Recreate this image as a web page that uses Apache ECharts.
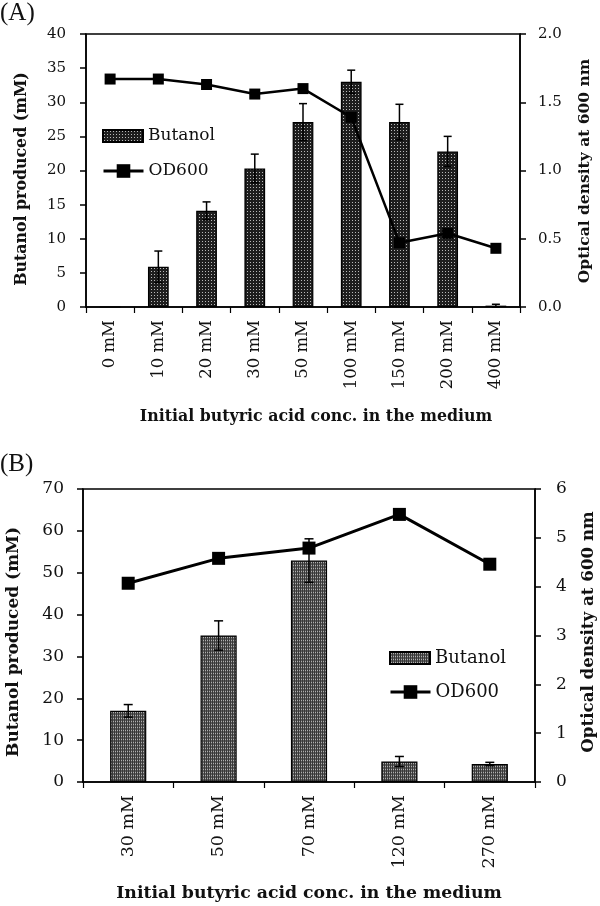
<!DOCTYPE html>
<html><head><meta charset="utf-8">
<script src="https://cdn.jsdelivr.net/npm/echarts@6/dist/echarts.min.js"></script>
<style>html,body{margin:0;padding:0;background:#fff}#c{width:600px;height:906px}</style>
</head><body><div id="c"></div><script>
// ---------- Data ----------
const catA = ['0 mM','10 mM','20 mM','30 mM','50 mM','100 mM','150 mM','200 mM','400 mM'];
const butanolA = [0, 5.9, 14.1, 20.3, 27.1, 33.0, 27.1, 22.8, 0.2];
const butanolErrA = [0, 2.3, 1.3, 2.1, 2.7, 1.7, 2.6, 2.2, 0.2];
const odA = [1.67, 1.67, 1.63, 1.56, 1.60, 1.39, 0.47, 0.54, 0.43];
const leftTicksA = [0, 5, 10, 15, 20, 25, 30, 35, 40];
const rightTicksA = [0.0, 0.5, 1.0, 1.5, 2.0];

const catB = ['30 mM','50 mM','70 mM','120 mM','270 mM'];
const butanolB = [17.0, 35.0, 52.9, 4.9, 4.3];
const butanolErrB = [1.5, 3.5, 5.2, 1.2, 0.4];
const odB = [4.07, 4.58, 4.79, 5.48, 4.46];
const leftTicksB = [0, 10, 20, 30, 40, 50, 60, 70];
const rightTicksB = [0, 1, 2, 3, 4, 5, 6];

// ---------- Patterns ----------
function makePattern(w, h, bg, pts) {
  const c = document.createElement('canvas');
  c.width = w; c.height = h;
  const g = c.getContext('2d');
  g.fillStyle = bg; g.fillRect(0, 0, w, h);
  pts.forEach(p => { g.fillStyle = p[2]; g.fillRect(p[0], p[1], 1, 1); });
  return { image: c, repeat: 'repeat' };
}
const patA = makePattern(3, 3, '#1e1e1e', [[1, 1, '#b8b8b8']]);
const patB = makePattern(2, 3, '#383838', [[1, 0, '#5e5e5e'], [1, 1, '#b0b0b0'], [1, 2, '#5e5e5e']]);

const FONT = '"DejaVu Serif", serif';

function errData(vals, errs) {
  const out = [];
  vals.forEach((v, i) => { if (errs[i] > 0) out.push([i, Math.max(0, v - errs[i]), v + errs[i]]); });
  return out;
}
function errRender(capHalf) {
  return function (params, api) {
    const x = api.value(0);
    const lo = api.coord([x, api.value(1)]);
    const hi = api.coord([x, api.value(2)]);
    const st = { stroke: '#000', lineWidth: 1.5 };
    return { type: 'group', children: [
      { type: 'line', shape: { x1: lo[0], y1: lo[1], x2: hi[0], y2: hi[1] }, style: st },
      { type: 'line', shape: { x1: hi[0] - capHalf, y1: hi[1], x2: hi[0] + capHalf, y2: hi[1] }, style: st },
      { type: 'line', shape: { x1: lo[0] - capHalf, y1: lo[1], x2: lo[0] + capHalf, y2: lo[1] }, style: st }
    ]};
  };
}
function yAxis(ticks, gridIndex, pos, fs, margin, fmt) {
  return {
    type: 'value', gridIndex, position: pos,
    min: ticks[0], max: ticks[ticks.length - 1], interval: ticks[1] - ticks[0],
    splitLine: { show: false },
    axisLine: { show: true, lineStyle: { color: '#000', width: 1.5 } },
    axisTick: { show: true, length: 6, lineStyle: { color: '#000', width: 1.5 } },
    axisLabel: { color: '#111', fontFamily: FONT, fontSize: fs, margin, formatter: fmt }
  };
}
function xAxis(cats, gridIndex, fs) {
  return {
    type: 'category', gridIndex, data: cats, boundaryGap: true,
    axisLine: { show: true, lineStyle: { color: '#000', width: 1.5 } },
    axisTick: { show: true, length: 6, alignWithLabel: false, lineStyle: { color: '#000', width: 1.2 } },
    axisLabel: { interval: 0, rotate: 90, margin: 13, color: '#111', fontFamily: FONT, fontSize: fs }
  };
}
function title(text, x, y, fs, rot) {
  return { type: 'text', x, y, rotation: rot ? Math.PI / 2 : 0,
    style: { text, fill: '#111', font: 'bold ' + fs + 'px ' + FONT, textAlign: 'center', textVerticalAlign: 'middle' } };
}
function legend(name, left, top, ih, fs, icon) {
  return { left, top, padding: 0, itemWidth: 40, itemHeight: ih, icon,
    data: [name], formatter: n => n.split('#')[0],
    lineStyle: { width: 3, color: '#000' },
    textStyle: { fontFamily: FONT, fontSize: fs, color: '#111', lineHeight: 18 } };
}

const chart = echarts.init(document.getElementById('c'), null, { renderer: 'canvas' });
chart.setOption({
  animation: false,
  backgroundColor: '#fff',
  grid: [
    { left: 86, width: 434, top: 34, height: 273, show: true, borderColor: '#000', borderWidth: 1.5, backgroundColor: 'transparent' },
    { left: 83, width: 452, top: 489, height: 293, show: true, borderColor: '#000', borderWidth: 1.5, backgroundColor: 'transparent' }
  ],
  xAxis: [ xAxis(catA, 0, 16.5), xAxis(catB, 1, 17.5) ],
  yAxis: [
    yAxis(leftTicksA, 0, 'left', 15, 20),
    yAxis(rightTicksA, 0, 'right', 15, 18, v => v.toFixed(1)),
    yAxis(leftTicksB, 1, 'left', 17, 19),
    yAxis(rightTicksB, 1, 'right', 17, 21)
  ],
  legend: [
    legend('Butanol#A', 102, 127, 12, 17, 'rect'),
    legend('OD600#A', 102, 162, 17, 17),
    legend('Butanol#B', 389, 649, 12, 18, 'rect'),
    legend('OD600#B', 389, 683, 17, 18)
  ],
  series: [
    { name: 'Butanol#A', type: 'bar', xAxisIndex: 0, yAxisIndex: 0, data: butanolA, barWidth: '43%',
      itemStyle: { color: patA, borderColor: '#000', borderWidth: 1.2 } },
    { name: 'errA', type: 'custom', xAxisIndex: 0, yAxisIndex: 0, data: errData(butanolA, butanolErrA),
      encode: { x: 0, y: [1, 2] }, renderItem: errRender(4), z: 5 },
    { name: 'OD600#A', type: 'line', xAxisIndex: 0, yAxisIndex: 1, data: odA,
      symbol: 'rect', symbolSize: 11, lineStyle: { color: '#000', width: 2.5 },
      itemStyle: { color: '#000' }, z: 6 },
    { name: 'Butanol#B', type: 'bar', xAxisIndex: 1, yAxisIndex: 2, data: butanolB, barWidth: '40%',
      itemStyle: { color: patB, borderColor: '#000', borderWidth: 1.2 } },
    { name: 'errB', type: 'custom', xAxisIndex: 1, yAxisIndex: 2, data: errData(butanolB, butanolErrB),
      encode: { x: 0, y: [1, 2] }, renderItem: errRender(4.5), z: 5 },
    { name: 'OD600#B', type: 'line', xAxisIndex: 1, yAxisIndex: 3, data: odB,
      symbol: 'rect', symbolSize: 13, lineStyle: { color: '#000', width: 3 },
      itemStyle: { color: '#000' }, z: 6 }
  ],
  graphic: [
    { type: 'text', x: 0, y: 1, style: { text: '(A)', fill: '#111', font: '25px "Liberation Serif", serif' } },
    { type: 'text', x: 0, y: 452, style: { text: '(B)', fill: '#111', font: '25px "Liberation Serif", serif' } },
    title('Initial butyric acid conc. in the medium', 316, 417, 15.8, false),
    title('Butanol produced (mM)', 22, 179, 15.8, true),
    title('Optical density at 600 nm', 585, 171, 15.5, true),
    title('Initial butyric acid conc. in the medium', 309, 894, 17.3, false),
    title('Butanol produced (mM)', 14, 642, 17, true),
    title('Optical density at 600 nm', 589, 632, 16.7, true)
  ]
});
</script></body></html>
